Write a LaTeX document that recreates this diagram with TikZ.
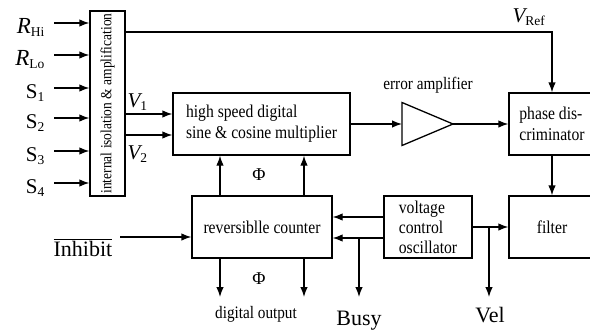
\documentclass[tikz,border=0pt]{standalone}
\usepackage{fontspec}
\setmainfont{Liberation Serif}
\newfontfamily\cond{Liberation Serif}[FakeStretch=0.87]
\usetikzlibrary{arrows.meta}
\newcommand\fsz[1]{\fontsize{#1}{#1}\selectfont}
\newcommand\lsub[1]{\raisebox{-0.35ex}{\fsz{13.5}#1}}
\begin{document}
\begin{tikzpicture}[x=1pt,y=-1pt,line width=1.3pt,
  box/.style={draw,rectangle,inner ysep=0pt,minimum height=62pt,font=\cond\fontsize{18}{21}\selectfont},
  arr/.style={-{Latex[length=10pt,width=7.5pt]}},
  inlbl/.style={anchor=base east,inner sep=0pt,font=\fsz{21}},
  lbl/.style={inner sep=0pt,font=\cond\fsz{17.5}},
  biglbl/.style={anchor=base,inner sep=0pt,font=\fsz{22}}]
\useasboundingbox (0,0) rectangle (590,332);
% boxes
\node[draw,rectangle,minimum width=35pt,minimum height=185pt,inner sep=0pt] (iso) at (107.5,103.5) {};
\node[rotate=90,inner sep=0pt,font=\cond\fsz{15.5}] (isotxt) at (iso.center) {internal isolation \& amplification};
\node[box,minimum width=177pt,inner xsep=2pt,align=left] (mult) at (261.5,124) {high speed digital\\sine \& cosine multiplier};
\node[box,minimum width=86pt,inner xsep=2pt,align=left] (pd) at (552,124) {phase dis-\\criminator};
\node[box,minimum width=86pt] (filter) at (552,227) {filter};
\node[box,minimum width=88pt,inner xsep=2pt,align=left,font=\cond\fontsize{18}{20}\selectfont] (vco) at (428,227) {voltage\\control\\oscillator};
\node[box,minimum width=140pt] (counter) at (262,227) {reversiblle counter};
% amplifier
\coordinate (ampin) at (402,124);
\coordinate (ampout) at (453,124);
\draw (402,102.5) -- (ampout) -- (402,145.5) -- cycle;
\node[lbl,anchor=base] (amplbl) at (428,89) {error amplifier};
% inputs
\foreach \y/\n/\t in {23/a/{{\fsz{23}\itshape R}\lsub{Hi}},55/b/{{\fsz{23}\itshape R}\lsub{Lo}},88/c/{S\lsub{1}},118/d/{S\lsub{2}},151/e/{S\lsub{3}},183/f/{S\lsub{4}}}{
  \coordinate (in\n) at (54,\y);
  \node[inlbl] (lab\n) at (45,\y+10) {\t};
  \draw[arr] (in\n) -- (in\n -| iso.west);
}
% V1, V2
\coordinate (v1) at (125,114);
\coordinate (v2) at (125,135);
\draw[arr] (v1) -- (v1 -| mult.west);
\draw[arr] (v2) -- (v2 -| mult.west);
\node[anchor=base west,inner sep=0pt,font=\fsz{21}] (v1lbl) at (127,107) {{\itshape V}\lsub{1}};
\node[anchor=base west,inner sep=0pt,font=\fsz{21}] (v2lbl) at (127,159) {{\itshape V}\lsub{2}};
% Vref
\coordinate (vr) at (125,32);
\draw[arr] (vr) -| (pd.north);
\node[anchor=base west,inner sep=0pt,font=\fsz{21}] (vrlbl) at (512,22) {{\itshape V}\lsub{Ref}};
% main chain
\draw[arr] (mult.east) -- (ampin);
\draw[arr] (ampout) -- (pd.west);
\draw[arr] (pd.south) -- (filter.north);
\draw[arr] (vco.east) -- (filter.west);
\coordinate (velj) at (489,227);
\coordinate (velend) at (489,297);
\draw[arr] (velj) -- (velend);
\node[biglbl] (vel) at (490,322) {Vel};
% vco to counter
\coordinate (c1) at (0,217);
\coordinate (c2) at (0,238);
\draw[arr] (vco.west |- c1) -- (counter.east |- c1);
\draw[arr] (vco.west |- c2) -- (counter.east |- c2);
\coordinate (busyj) at (359,238);
\coordinate (busyend) at (359,297);
\draw[arr] (busyj) -- (busyend);
\node[biglbl] (busy) at (359,325) {Busy};
% inhibit
\coordinate (inh) at (120,237);
\draw[arr] (inh) -- (inh -| counter.west);
\node[anchor=base,inner sep=0pt,font=\fsz{22}] (inhlbl) at (83,256) {$\overline{\hbox{Inhibit}}$};
% counter - multiplier
\coordinate (p1) at (220,0);
\coordinate (p2) at (304,0);
\coordinate (de) at (0,297);
\draw[arr] (counter.north -| p1) -- (mult.south -| p1);
\draw[arr] (counter.north -| p2) -- (mult.south -| p2);
\draw[arr] (counter.south -| p1) -- (p1 |- de);
\draw[arr] (counter.south -| p2) -- (p2 |- de);
\node[inner sep=0pt,font=\fsz{18}] (phi1) at (259,175) {Φ};
\node[inner sep=0pt,font=\fsz{18}] (phi2) at (259,279) {Φ};
\node[lbl,anchor=base] (dout) at (256,318) {digital output};
\end{tikzpicture}
\end{document}
